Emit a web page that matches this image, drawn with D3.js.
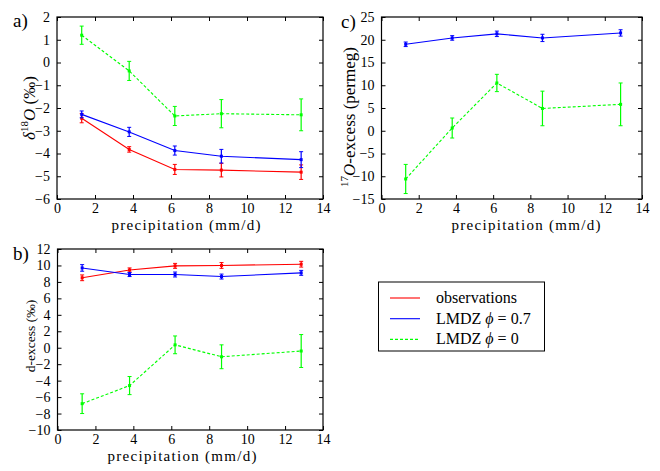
<!DOCTYPE html>
<html><head><meta charset="utf-8">
<script src="https://cdn.jsdelivr.net/npm/d3@7"></script>
<style>
body{margin:0;background:#fff;}
</style></head>
<body><svg id="c" width="660" height="471"></svg>
<script>
const precip = [1.3, 3.8, 6.2, 8.65, 12.85];
const xTicks = [0, 2, 4, 6, 8, 10, 12, 14];

// panel a: delta18O
const aObs = [-2.45, -3.82, -4.70, -4.73, -4.82];
const aObsErr = [0.2, 0.12, 0.22, 0.3, 0.32];
const aL07 = [-2.28, -3.05, -3.87, -4.12, -4.27];
const aL07Err = [0.15, 0.2, 0.2, 0.3, 0.35];
const aL0 = [1.2, -0.37, -2.35, -2.25, -2.3];
const aL0Err = [0.4, 0.42, 0.42, 0.62, 0.7];
const aTicks = [-6, -5, -4, -3, -2, -1, 0, 1, 2];

// panel b: d-excess
const bObs = [8.5, 9.45, 9.95, 10.0, 10.15];
const bObsErr = [0.35, 0.25, 0.3, 0.35, 0.35];
const bL07 = [9.7, 8.9, 8.9, 8.65, 9.1];
const bL07Err = [0.4, 0.25, 0.3, 0.3, 0.3];
const bL0 = [-6.8, -4.6, 0.35, -1.1, -0.4];
const bL0Err = [1.2, 1.1, 1.08, 1.45, 2.0];
const bTicks = [-10, -8, -6, -4, -2, 0, 2, 4, 6, 8, 10, 12];

// panel c: 17O-excess
const cL07 = [19.0, 20.4, 21.3, 20.4, 21.5];
const cL07Err = [0.5, 0.5, 0.6, 0.8, 0.7];
const cL0 = [-10.6, 0.6, 10.5, 4.9, 5.8];
const cL0Err = [3.2, 2.2, 1.9, 3.8, 4.7];
const cTicks = [-15, -10, -5, 0, 5, 10, 15, 20, 25];

const legendLabels = ["observations", "LMDZ \u03D5 = 0.7", "LMDZ \u03D5 = 0"];

const RED = "#ff0000", BLUE = "#0000ff", GREEN = "#00ff00";

function pickSerif() {
  const cands = ["Liberation Serif", "DejaVu Serif", "Noto Serif", "Tinos", "Times New Roman",
                 "Nimbus Roman", "FreeSerif", "Times"];
  const ctx = document.createElement("canvas").getContext("2d");
  const probe = "precipitation mmwWil 0123456789";
  const w = f => { ctx.font = "32px " + f; return ctx.measureText(probe).width; };
  const wm = w("monospace");
  for (const c of cands) {
    const a = w(`'${c}', monospace`), b = w(`'${c}', sans-serif`);
    if (a === b && a !== wm) return `'${c}'`;
  }
  return "serif";
}
const FONT = pickSerif() + ", serif";

const svg = d3.select("#c");
const fmt = v => (v < 0 ? "\u2212" + Math.abs(v) : String(v));

function panel(opt) {
  const x = d3.scaleLinear().domain([0, 14]).range([opt.x0, opt.x1]);
  const y = d3.scaleLinear().domain(opt.ydom).range([opt.y1, opt.y0]);
  const g = svg.append("g");
  g.append("g").attr("transform", `translate(0,${opt.y1})`)
    .call(d3.axisBottom(x).tickValues(xTicks).tickSizeInner(-4).tickSizeOuter(0).tickPadding(4).tickFormat(fmt));
  g.append("g").attr("transform", `translate(0,${opt.y0})`)
    .call(d3.axisTop(x).tickValues(xTicks).tickSizeInner(-4).tickSizeOuter(0).tickFormat(""));
  g.append("g").attr("transform", `translate(${opt.x0},0)`)
    .call(d3.axisLeft(y).tickValues(opt.ticks).tickSizeInner(-4).tickSizeOuter(0).tickPadding(7).tickFormat(fmt));
  g.append("g").attr("transform", `translate(${opt.x1},0)`)
    .call(d3.axisRight(y).tickValues(opt.ticks).tickSizeInner(-4).tickSizeOuter(0).tickFormat(""));
  g.selectAll(".domain").remove();
  g.selectAll("g").attr("font-family", FONT).attr("font-size", null);
  g.selectAll(".tick line").attr("stroke", "#000");
  g.selectAll(".tick text").style("font-size", "14px").style("font-family", FONT).attr("fill", "#000");
  g.append("rect").attr("x", opt.x0).attr("y", opt.y0)
    .attr("width", opt.x1 - opt.x0).attr("height", opt.y1 - opt.y0)
    .attr("fill", "none").attr("stroke", "#000").attr("stroke-width", 1.2);

  const line = d3.line().x((d, i) => x(precip[i])).y(d => y(d));
  opt.series.forEach(s => {
    const sg = g.append("g");
    sg.append("path").datum(s.v).attr("d", line).attr("fill", "none")
      .attr("stroke", s.c).attr("stroke-width", 1.1)
      .attr("stroke-dasharray", s.dash ? "3,2" : null);
    s.v.forEach((v, i) => {
      const cx = x(precip[i]);
      const lo = y(v - s.e[i]), hi = y(v + s.e[i]);
      sg.append("line").attr("x1", cx).attr("x2", cx).attr("y1", lo).attr("y2", hi)
        .attr("stroke", s.c).attr("stroke-width", 1.2);
      [lo, hi].forEach(yy => sg.append("line").attr("x1", cx - 2).attr("x2", cx + 2)
        .attr("y1", yy).attr("y2", yy).attr("stroke", s.c).attr("stroke-width", 1));
      sg.append("rect").attr("x", cx - 1.5).attr("y", y(v) - 1.5).attr("width", 3).attr("height", 3)
        .attr("fill", s.c);
    });
  });

  g.append("text").attr("x", opt.xlc).attr("y", opt.y1 + 31)
    .attr("text-anchor", "middle").style("font-size", "15px").style("font-family", FONT)
    .attr("textLength", 149).attr("lengthAdjust", "spacing")
    .text("precipitation (mm/d)");
  const yl = g.append("text").attr("transform", `translate(${opt.ylx},${opt.ylc}) rotate(-90)`)
    .attr("text-anchor", "middle").style("font-size", opt.yfs + "px").style("font-family", FONT);
  opt.ylabel(yl);
  g.append("text").attr("x", opt.lx).attr("y", opt.ly).style("font-size", "19px")
    .style("font-family", FONT).text(opt.letter);
}

panel({
  x0: 57, x1: 323, y0: 17, y1: 199, ydom: [-6, 2], ticks: aTicks,
  series: [
    {v: aObs, e: aObsErr, c: RED},
    {v: aL07, e: aL07Err, c: BLUE},
    {v: aL0, e: aL0Err, c: GREEN, dash: true}
  ],
  xlc: 186, ylx: 35, ylc: 108, yfs: 17, lx: 13, ly: 27, letter: "a)",
  ylabel: t => {
    t.append("tspan").style("font-style", "italic").text("\u03B4");
    t.append("tspan").attr("dy", -7).style("font-size", "11px").text("18");
    t.append("tspan").attr("dy", 7).style("font-style", "italic").text("O");
    t.append("tspan").text(" (\u2030)");
  }
});

panel({
  x0: 57.5, x1: 323, y0: 249, y1: 430, ydom: [-10, 12], ticks: bTicks,
  series: [
    {v: bObs, e: bObsErr, c: RED},
    {v: bL07, e: bL07Err, c: BLUE},
    {v: bL0, e: bL0Err, c: GREEN, dash: true}
  ],
  xlc: 182, ylx: 35, ylc: 336, yfs: 13.5, lx: 13, ly: 260, letter: "b)",
  ylabel: t => { t.text("d-excess (\u2030)"); }
});

panel({
  x0: 381.5, x1: 642, y0: 17, y1: 199, ydom: [-15, 25], ticks: cTicks,
  series: [
    {v: cL07, e: cL07Err, c: BLUE},
    {v: cL0, e: cL0Err, c: GREEN, dash: true}
  ],
  xlc: 526, ylx: 355, ylc: 117, yfs: 17, lx: 341, ly: 28, letter: "c)",
  ylabel: t => {
    t.append("tspan").attr("dy", -7).style("font-size", "11px").text("17");
    t.append("tspan").attr("dy", 7).style("font-style", "italic").text("O");
    t.append("tspan").text("-excess (permeg)");
  }
});

const lg = svg.append("g");
lg.append("rect").attr("x", 378.5).attr("y", 282).attr("width", 166).attr("height", 69)
  .attr("fill", "#fff").attr("stroke", "#000").attr("stroke-width", 1);
const legColors = [RED, BLUE, GREEN];
legendLabels.forEach((lab, i) => {
  const yy = 298 + i * 20.7;
  lg.append("line").attr("x1", 390).attr("x2", 420).attr("y1", yy).attr("y2", yy)
    .attr("stroke", legColors[i]).attr("stroke-width", 1.1)
    .attr("stroke-dasharray", i === 2 ? "3,2" : null);
  const t = lg.append("text").attr("x", 436).attr("y", yy + 5)
    .style("font-size", "16px").style("font-family", FONT);
  if (i === 0) t.text(lab);
  else {
    const parts = lab.split("\u03D5");
    t.append("tspan").text(parts[0]);
    t.append("tspan").style("font-style", "italic").text("\u03D5");
    t.append("tspan").text(parts[1]);
  }
});
</script></body></html>
